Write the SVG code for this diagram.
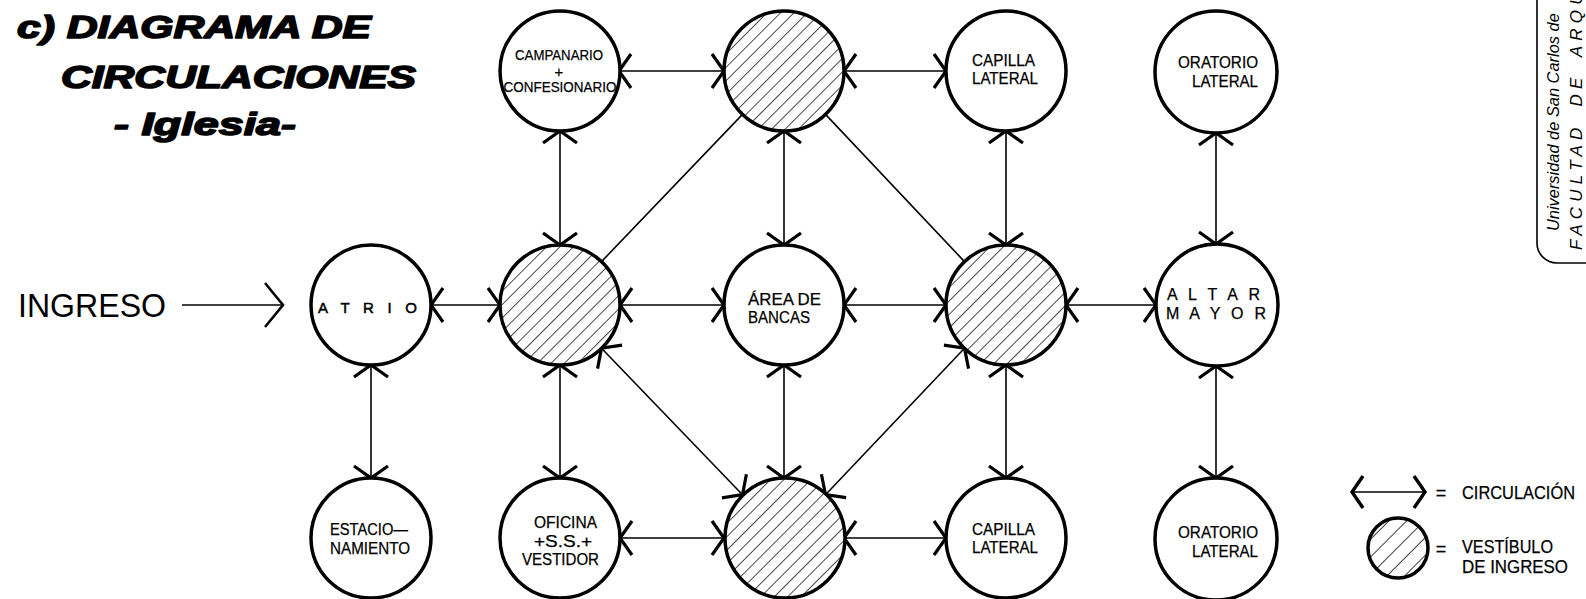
<svg xmlns="http://www.w3.org/2000/svg" width="1586" height="599" viewBox="0 0 1586 599">
<style>
  .nd { fill: #fff; stroke: #000; stroke-width: 3.5; }
  .vh { fill: url(#hatch); stroke: #000; stroke-width: 3.5; }
  .t { font-family: "Liberation Sans", Arial, sans-serif; font-size: 16px; fill: #000; stroke: #000; stroke-width: 0.25; }
  .c { fill: none; stroke: #000; stroke-width: 1.6; }
  .title { font-family: "Liberation Sans", Arial, sans-serif; font-weight: bold; font-style: italic; font-size: 32px; fill: #000; stroke: #000; stroke-width: 1.6; stroke-linejoin: round; }
</style>
<defs>
  <pattern id="hatch" patternUnits="userSpaceOnUse" width="9.5" height="20" patternTransform="rotate(45)">
    <rect width="9.5" height="20" fill="#fff"/>
    <line x1="0" y1="0" x2="0" y2="20" stroke="#000" stroke-width="1.4"/>
  </pattern>
  <pattern id="hatchL" patternUnits="userSpaceOnUse" width="12.5" height="20" patternTransform="rotate(45)">
    <rect width="12.5" height="20" fill="#fff"/>
    <line x1="0" y1="0" x2="0" y2="20" stroke="#000" stroke-width="1.5"/>
  </pattern>
  <marker id="ah" viewBox="-15 -20 18 40" refX="0" refY="0" markerWidth="18" markerHeight="40" markerUnits="userSpaceOnUse" orient="auto-start-reverse" overflow="visible">
    <path d="M-12,-17 L0,0 L-12,17" fill="none" stroke="#000" stroke-width="3.2"/>
  </marker>
  <marker id="ahL" viewBox="-15 -20 18 40" refX="0" refY="0" markerWidth="18" markerHeight="40" markerUnits="userSpaceOnUse" orient="auto-start-reverse" overflow="visible">
    <path d="M-11,-16 L0,0 L-11,16" fill="none" stroke="#000" stroke-width="3.4"/>
  </marker>
  <marker id="ahI" viewBox="-20 -25 22 50" refX="0" refY="0" markerWidth="22" markerHeight="50" markerUnits="userSpaceOnUse" orient="auto" overflow="visible">
    <path d="M-18,-22 L0,0 L-18,22" fill="none" stroke="#000" stroke-width="2.6"/>
  </marker>
</defs>
<rect width="1586" height="599" fill="#fff"/>

<g id="title">
  <text class="title" x="17" y="38" textLength="354" lengthAdjust="spacingAndGlyphs">c) DIAGRAMA DE</text>
  <text class="title" x="61" y="88" textLength="355" lengthAdjust="spacingAndGlyphs">CIRCULACIONES</text>
  <text class="title" x="114" y="135" textLength="182" lengthAdjust="spacingAndGlyphs">- Iglesia-</text>
</g>

<g id="ingreso">
  <text x="18" y="317" style="font-family:'Liberation Sans',Arial,sans-serif;font-size:34px" textLength="148" lengthAdjust="spacingAndGlyphs">INGRESO</text>
</g>

<g id="connectors">
  <line class="c" x1="182" y1="305" x2="283" y2="305" marker-end="url(#ahI)"/>
  <line class="c" x1="619" y1="71" x2="724" y2="71" marker-start="url(#ah)" marker-end="url(#ah)"/>
  <line class="c" x1="844" y1="71" x2="946" y2="71" marker-start="url(#ah)" marker-end="url(#ah)"/>
  <line class="c" x1="431" y1="305" x2="500" y2="305" marker-start="url(#ah)" marker-end="url(#ah)"/>
  <line class="c" x1="620" y1="305" x2="724" y2="305" marker-start="url(#ah)" marker-end="url(#ah)"/>
  <line class="c" x1="844" y1="305" x2="946" y2="305" marker-start="url(#ah)" marker-end="url(#ah)"/>
  <line class="c" x1="1066" y1="305" x2="1156" y2="305" marker-start="url(#ah)" marker-end="url(#ah)"/>
  <line class="c" x1="620" y1="538" x2="724" y2="538" marker-start="url(#ah)" marker-end="url(#ah)"/>
  <line class="c" x1="844" y1="538" x2="946" y2="538" marker-start="url(#ah)" marker-end="url(#ah)"/>
  <line class="c" x1="560" y1="131" x2="560" y2="245" marker-start="url(#ah)" marker-end="url(#ah)"/>
  <line class="c" x1="784" y1="131" x2="784" y2="245" marker-start="url(#ah)" marker-end="url(#ah)"/>
  <line class="c" x1="1006" y1="131" x2="1006" y2="245" marker-start="url(#ah)" marker-end="url(#ah)"/>
  <line class="c" x1="1216" y1="133" x2="1216" y2="244" marker-start="url(#ah)" marker-end="url(#ah)"/>
  <line class="c" x1="371" y1="365" x2="371" y2="478" marker-start="url(#ah)" marker-end="url(#ah)"/>
  <line class="c" x1="560" y1="365" x2="560" y2="478" marker-start="url(#ah)" marker-end="url(#ah)"/>
  <line class="c" x1="784" y1="365" x2="784" y2="478" marker-start="url(#ah)" marker-end="url(#ah)"/>
  <line class="c" x1="1006" y1="365" x2="1006" y2="478" marker-start="url(#ah)" marker-end="url(#ah)"/>
  <line class="c" x1="1216" y1="366" x2="1216" y2="478" marker-start="url(#ah)" marker-end="url(#ah)"/>
  <line class="c" x1="742.5" y1="114.4" x2="601.5" y2="261.6"/>
  <line class="c" x1="825.5" y1="114.4" x2="964.5" y2="261.6"/>
  <line class="c" x1="601.5" y1="348.2" x2="742.5" y2="494.7" marker-start="url(#ah)" marker-end="url(#ah)"/>
  <line class="c" x1="964.5" y1="348.2" x2="825.5" y2="494.7" marker-start="url(#ah)" marker-end="url(#ah)"/>
</g>

<g id="campanario">
  <circle class="nd" cx="560" cy="71" r="60"/>
  <text class="t" x="559" y="60" text-anchor="middle" style="font-size:15px" textLength="88" lengthAdjust="spacingAndGlyphs">CAMPANARIO</text>
  <text class="t" x="559" y="77" text-anchor="middle" style="font-size:15px">+</text>
  <text class="t" x="560" y="92" text-anchor="middle" style="font-size:15px" textLength="113" lengthAdjust="spacingAndGlyphs">CONFESIONARIO</text>
</g>
<g id="vestibulo-norte">
  <circle class="vh" cx="784" cy="71" r="60"/>
</g>
<g id="capilla-norte">
  <circle class="nd" cx="1006" cy="71" r="60"/>
  <text class="t" x="972" y="66" textLength="63" lengthAdjust="spacingAndGlyphs">CAPILLA</text>
  <text class="t" x="972" y="84" textLength="66" lengthAdjust="spacingAndGlyphs">LATERAL</text>
</g>
<g id="oratorio-norte">
  <circle class="nd" cx="1216" cy="72" r="61"/>
  <text class="t" x="1178" y="68" textLength="80" lengthAdjust="spacingAndGlyphs">ORATORIO</text>
  <text class="t" x="1192" y="87" textLength="66" lengthAdjust="spacingAndGlyphs">LATERAL</text>
</g>

<g id="atrio">
  <circle class="nd" cx="371" cy="305" r="60"/>
  <text class="t" x="318" y="313" style="font-size:15px;stroke-width:0.5" textLength="99" lengthAdjust="spacing">A T R I O</text>
</g>
<g id="vestibulo-oeste">
  <circle class="vh" cx="560" cy="305" r="60"/>
</g>
<g id="area-bancas">
  <circle class="nd" cx="784" cy="305" r="60"/>
  <text class="t" x="748" y="305" textLength="73" lengthAdjust="spacingAndGlyphs">ÁREA  DE</text>
  <text class="t" x="748" y="323" textLength="62" lengthAdjust="spacingAndGlyphs">BANCAS</text>
</g>
<g id="vestibulo-este">
  <circle class="vh" cx="1006" cy="305" r="60"/>
</g>
<g id="altar-mayor">
  <circle class="nd" cx="1217" cy="305" r="61"/>
  <text class="t" x="1167" y="300" style="font-size:16px" textLength="93" lengthAdjust="spacing">A L T A R</text>
  <text class="t" x="1166" y="319" style="font-size:16px" textLength="100" lengthAdjust="spacing">M A Y O R</text>
</g>

<g id="estacionamiento">
  <circle class="nd" cx="371" cy="538" r="60"/>
  <text class="t" x="330" y="535" textLength="78" lengthAdjust="spacingAndGlyphs">ESTACIO—</text>
  <text class="t" x="330" y="554" textLength="80" lengthAdjust="spacingAndGlyphs">NAMIENTO</text>
</g>
<g id="oficina">
  <circle class="nd" cx="560" cy="538" r="60"/>
  <text class="t" x="534" y="528" textLength="63" lengthAdjust="spacingAndGlyphs">OFICINA</text>
  <text class="t" x="534" y="547" textLength="58" lengthAdjust="spacingAndGlyphs">+S.S.+</text>
  <text class="t" x="522" y="565" textLength="77" lengthAdjust="spacingAndGlyphs">VESTIDOR</text>
</g>
<g id="vestibulo-sur">
  <circle class="vh" cx="785" cy="538" r="60"/>
</g>
<g id="capilla-sur">
  <circle class="nd" cx="1006" cy="538" r="60"/>
  <text class="t" x="972" y="535" textLength="63" lengthAdjust="spacingAndGlyphs">CAPILLA</text>
  <text class="t" x="972" y="553" textLength="66" lengthAdjust="spacingAndGlyphs">LATERAL</text>
</g>
<g id="oratorio-sur">
  <circle class="nd" cx="1216" cy="539" r="61"/>
  <text class="t" x="1178" y="538" textLength="80" lengthAdjust="spacingAndGlyphs">ORATORIO</text>
  <text class="t" x="1192" y="557" textLength="66" lengthAdjust="spacingAndGlyphs">LATERAL</text>
</g>

<g id="legend">
  <line class="c" x1="1352" y1="492" x2="1425" y2="492" marker-start="url(#ahL)" marker-end="url(#ahL)"/>
  <text class="t" x="1441" y="499" text-anchor="middle" style="font-size:18px">=</text>
  <text class="t" x="1462" y="499" style="font-size:18px" textLength="113" lengthAdjust="spacingAndGlyphs">CIRCULACIÓN</text>
  <circle cx="1398" cy="548" r="30" fill="url(#hatchL)" stroke="#000" stroke-width="3.5"/>
  <text class="t" x="1441" y="555" text-anchor="middle" style="font-size:18px">=</text>
  <text class="t" x="1462" y="553" style="font-size:18px" textLength="91" lengthAdjust="spacingAndGlyphs">VESTÍBULO</text>
  <text class="t" x="1462" y="573" style="font-size:18px" textLength="106" lengthAdjust="spacingAndGlyphs">DE  INGRESO</text>
</g>

<g id="sello">
  <path d="M1537,0 V243 A20,20 0 0 0 1557,263 H1586" fill="none" stroke="#000" stroke-width="1.6"/>
  <text transform="translate(1559,231) rotate(-90)" style="font-family:'Liberation Sans',Arial,sans-serif;font-style:italic;font-size:16.4px">Universidad de San Carlos de</text>
  <text transform="translate(1582,250) rotate(-90)" style="font-family:'Liberation Sans',Arial,sans-serif;font-style:italic;font-size:17px;letter-spacing:5.2px;word-spacing:6px">FACULTAD DE ARQU</text>
</g>
</svg>
